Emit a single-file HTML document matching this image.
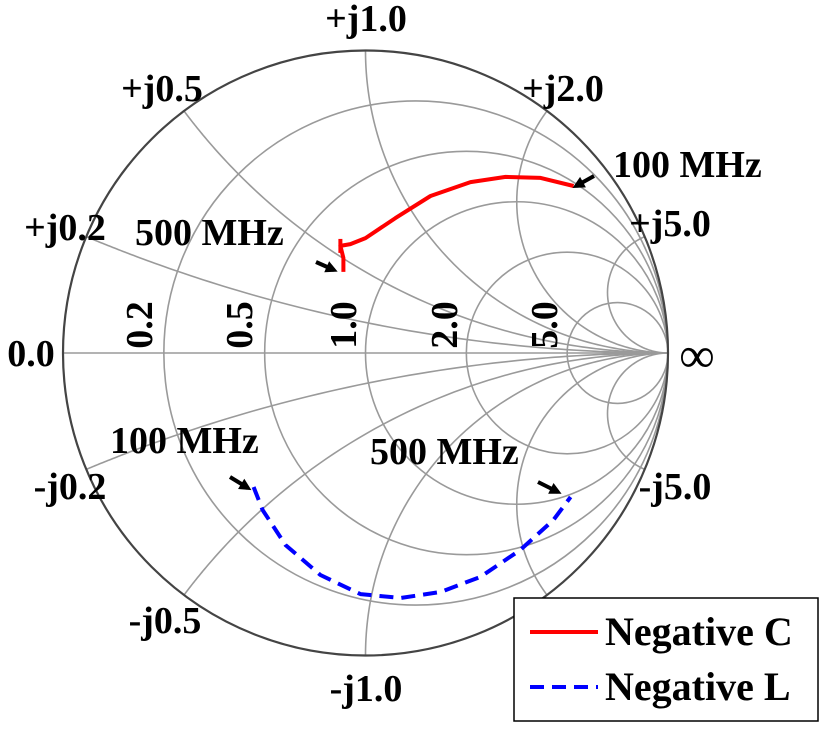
<!DOCTYPE html>
<html><head><meta charset="utf-8">
<style>
html,body{margin:0;padding:0;background:#fff;}
svg{display:block;font-family:"Liberation Serif",serif;font-weight:bold;}
</style></head>
<body>
<svg id="chart" width="827" height="729" viewBox="0 0 827 729" xmlns="http://www.w3.org/2000/svg">
<g id="grid"></g>
<g id="series"></g>
<g id="labels" font-size="38" fill="#000"></g>
<g>
  <rect x="514" y="598" width="304" height="123" fill="#fff" stroke="#000" stroke-width="1.5"/>
  <line x1="530" y1="632" x2="598" y2="632" stroke="#ff0000" stroke-width="4"/>
  <text x="605" y="645" font-size="40">Negative C</text>
  <line x1="530" y1="687" x2="598" y2="687" stroke="#0000ff" stroke-width="4" stroke-dasharray="14,8"/>
  <text x="605" y="700" font-size="40">Negative L</text>
</g>
</svg>
<script>
const resistanceValues = [0.2, 0.5, 1.0, 2.0, 5.0];
const reactanceValues = [0.2, 0.5, 1.0, 2.0, 5.0, -0.2, -0.5, -1.0, -2.0, -5.0];
const resistanceTickLabels = ["0.2", "0.5", "1.0", "2.0", "5.0"];
const reactanceTickLabels = ["+j0.2","+j0.5","+j1.0","+j2.0","+j5.0","-j0.2","-j0.5","-j1.0","-j5.0"];
// Negative C (red) – reflection coefficient (real, imag)
const negCRe = [0.688, 0.579, 0.463, 0.347, 0.215, 0.099, 0.0, -0.050, -0.083, -0.073, -0.073];
const negCIm = [0.552, 0.579, 0.582, 0.565, 0.519, 0.446, 0.380, 0.360, 0.354, 0.314, 0.268];
// Negative L (blue)
const negLRe = [-0.370, -0.340, -0.264, -0.149, -0.017, 0.116, 0.248, 0.380, 0.512, 0.621, 0.678];
const negLIm = [-0.443, -0.519, -0.635, -0.734, -0.797, -0.810, -0.790, -0.740, -0.651, -0.552, -0.476];

const CX = 365.5, CY = 353, R = 302.5;
const NS = "http://www.w3.org/2000/svg";
function sx(g){ return CX + g * R; }
function sy(g){ return CY - g * R; }
function gamma(r, x){
  const dr = (r+1)*(r+1) + x*x;
  return [((r*r + x*x) - 1) / dr, (2*x) / dr];
}
function mk(tag, attrs, parent){
  const e = document.createElementNS(NS, tag);
  for (const k in attrs) e.setAttribute(k, attrs[k]);
  parent.appendChild(e);
  return e;
}
const grid = document.getElementById('grid');
const ax = mk('line', {x1: sx(-1), y1: sy(0), x2: sx(1), y2: sy(0), stroke: '#9a9a9a', 'stroke-width': 1.6}, grid);


resistanceValues.forEach(r => {
  const c = mk('circle', {cx: sx(r/(1+r)), cy: sy(0), r: R/(1+r), fill: 'none', stroke: '#9a9a9a', 'stroke-width': 1.6}, grid);
  
  
});
reactanceValues.forEach(x => {
  const pts = [];
  for (let i = 0; i <= 200; i++) {
    const r = i === 0 ? 0 : Math.pow(10, -3 + i * 0.03);
    const g = gamma(r, x);
    pts.push(sx(g[0]).toFixed(2) + ',' + sy(g[1]).toFixed(2));
  }
  const p = mk('polyline', {points: pts.join(' '), fill: 'none', stroke: '#9a9a9a', 'stroke-width': 1.6}, grid);
  
  
});
const oc = mk('circle', {cx: CX, cy: CY, r: R, fill: 'none', stroke: '#444', 'stroke-width': 2.2}, grid);



const series = document.getElementById('series');
function poly(re, im, color, dash, name){
  const pts = re.map((v, i) => sx(v).toFixed(1) + ',' + sy(im[i]).toFixed(1)).join(' ');
  const attrs = {points: pts, fill: 'none', stroke: color, 'stroke-width': 4, 'stroke-linejoin': 'round'};
  if (dash) attrs['stroke-dasharray'] = dash;
  const p = mk('polyline', attrs, series);
  
  
}
poly(negCRe, negCIm, '#ff0000', null, 'negative-c-line');
poly(negLRe, negLIm, '#0000ff', '14,8', 'negative-l-line');
const hk = mk('line', {x1: sx(negCRe[8]), y1: sy(negCIm[8]) - 7, x2: sx(negCRe[8]), y2: sy(negCIm[8]) + 7, stroke: '#ff0000', 'stroke-width': 4}, series);



const labels = document.getElementById('labels');
function txt(s, x, y, name, extra){
  const t = mk('text', Object.assign({x: x, y: y}, extra || {}), labels);
  t.textContent = s;
  
  
  return t;
}
const reactPos = [[65,240],[162,101],[366,31],[563,101],[670,236],
                  [70,499],[165,633],[366,701],[675,499]];
reactanceTickLabels.forEach((s, i) => {
  txt(s, reactPos[i][0], reactPos[i][1], 'reactance-label-' + s.replace('+','pos-').replace('-','neg-'), {'text-anchor': 'middle'});
});
const resX = [152, 252, 356, 457, 557];
resistanceTickLabels.forEach((s, i) => {
  txt(s, resX[i], 325, 'resistance-label-' + s, {'text-anchor': 'middle', transform: 'rotate(-90 ' + resX[i] + ' 325)'});
});
txt('0.0', 31, 366, 'resistance-label-0', {'text-anchor': 'middle'});
txt('∞', 697, 372, 'infinity-label', {'text-anchor': 'middle', 'font-size': 50, 'font-weight': 'normal'});
txt('100 MHz', 613, 177, 'annotation-negative-c-100mhz');
txt('500 MHz', 135, 245, 'annotation-negative-c-500mhz');
txt('100 MHz', 110, 453, 'annotation-negative-l-100mhz');
txt('500 MHz', 370, 464, 'annotation-negative-l-500mhz');

const arrows = [[594,176,576,186],[316,262,334,270],[230,477,248,488],[538,482,558,492]];
arrows.forEach((a, i) => {
  const l = mk('line', {x1: a[0], y1: a[1], x2: a[2], y2: a[3], stroke: '#000', 'stroke-width': 4}, labels);
  
  
  const ang = Math.atan2(a[3]-a[1], a[2]-a[0]);
  const hx = a[2] + 4*Math.cos(ang), hy = a[3] + 4*Math.sin(ang);
  const p1 = [hx - 12*Math.cos(ang) + 6*Math.sin(ang), hy - 12*Math.sin(ang) - 6*Math.cos(ang)];
  const p2 = [hx - 12*Math.cos(ang) - 6*Math.sin(ang), hy - 12*Math.sin(ang) + 6*Math.cos(ang)];
  const h = mk('polygon', {points: hx+','+hy+' '+p1.join(',')+' '+p2.join(','), fill: '#000'}, labels);
  
  
});
</script>
</body></html>
